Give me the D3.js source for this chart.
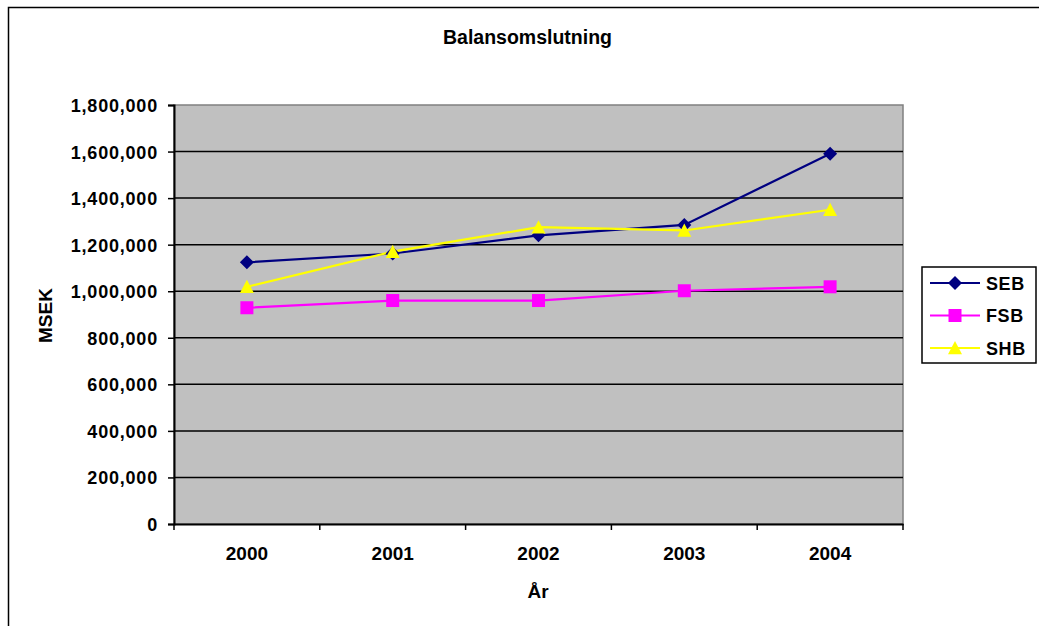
<!DOCTYPE html>
<html>
<head>
<meta charset="utf-8">
<script src="https://cdn.jsdelivr.net/npm/d3@7"></script>
<style>
  html, body { margin: 0; padding: 0; background: #fff; }
  svg { display: block; }
  text { font-family: "Liberation Sans", Arial, sans-serif; font-weight: bold; fill: #000; }
</style>
</head>
<body>
<svg id="chart" width="1039" height="626"></svg>
<script>
// Balansomslutning per bank, MSEK
const years = ["2000", "2001", "2002", "2003", "2004"];
const seb = [1124000, 1162000, 1240000, 1285000, 1591000];
const fsb = [929000, 960000, 960000, 1002000, 1019000];
const shb = [1019000, 1170000, 1275000, 1261000, 1350000];
const yTicks = [0, 200000, 400000, 600000, 800000, 1000000, 1200000, 1400000, 1600000, 1800000];
const seriesNames = ["SEB", "FSB", "SHB"];

// Marker shapes: rotated square, square, flat triangle
const diamond = {
  draw(ctx, size) {
    const r = Math.sqrt(size) / 2;
    ctx.moveTo(0, -r); ctx.lineTo(r, 0); ctx.lineTo(0, r); ctx.lineTo(-r, 0); ctx.closePath();
  }
};
const square = {
  draw(ctx, size) {
    const r = Math.sqrt(size) / 2;
    ctx.rect(-r, -r, 2 * r, 2 * r);
  }
};
const triangle = {
  draw(ctx, size) {
    const w = Math.sqrt(size) / 2;
    ctx.moveTo(0, -w); ctx.lineTo(w, w * 0.9); ctx.lineTo(-w, w * 0.9); ctx.closePath();
  }
};

const series = [
  { name: seriesNames[0], values: seb, color: "#000080", symbol: diamond, size: 196 },
  { name: seriesNames[1], values: fsb, color: "#FF00FF", symbol: square, size: 169 },
  { name: seriesNames[2], values: shb, color: "#FFFF00", symbol: triangle, size: 196 }
];

const svg = d3.select("#chart");
const plot = { left: 174, right: 903, top: 105, bottom: 524 };

// Outer chart frame
svg.append("rect")
  .attr("x", 8.5).attr("y", 7.5)
  .attr("width", 1040).attr("height", 630)
  .attr("fill", "#fff").attr("stroke", "#000").attr("stroke-width", 1.5);

const x = d3.scaleBand().domain(years).range([plot.left, plot.right]);
const y = d3.scaleLinear().domain([0, 1800000]).range([plot.bottom, plot.top]);

// Plot area
svg.append("rect")
  .attr("x", plot.left).attr("y", plot.top)
  .attr("width", plot.right - plot.left).attr("height", plot.bottom - plot.top)
  .attr("fill", "#C0C0C0").attr("stroke", "#808080").attr("stroke-width", 1.5);

// Horizontal gridlines
svg.append("g").selectAll("line")
  .data(yTicks.filter(v => v > 0 && v < 1800000))
  .join("line")
  .attr("x1", plot.left).attr("x2", plot.right)
  .attr("y1", d => y(d)).attr("y2", d => y(d))
  .attr("stroke", "#000").attr("stroke-width", 1.5);

// Y axis
const yAxis = svg.append("g")
  .attr("transform", `translate(${plot.left},0)`)
  .call(d3.axisLeft(y).tickValues(yTicks).tickSize(6).tickPadding(10)
    .tickFormat(d3.format(",")));
yAxis.select(".domain").attr("stroke", "#000").attr("stroke-width", 2);
yAxis.selectAll(".tick line").attr("stroke", "#000").attr("stroke-width", 1.5);
yAxis.selectAll(".tick text")
  .style("font-size", "18px").style("letter-spacing", "0.8px")
  .attr("font-family", null).attr("dy", "0.36em");

// X axis with ticks between categories
const xAxis = svg.append("g")
  .attr("transform", `translate(0,${plot.bottom})`)
  .call(d3.axisBottom(x).tickSize(0).tickPadding(23));
xAxis.select(".domain").attr("stroke", "#000").attr("stroke-width", 2);
xAxis.selectAll(".tick text").style("font-size", "19px").attr("font-family", null);
xAxis.append("g").selectAll("line")
  .data(years.map(yr => x(yr)).concat([plot.right]))
  .join("line")
  .attr("x1", d => d).attr("x2", d => d)
  .attr("y1", 0).attr("y2", 6)
  .attr("stroke", "#000").attr("stroke-width", 1.5);

// Series lines and markers
const line = d3.line()
  .x((d, i) => x(years[i]) + x.bandwidth() / 2)
  .y(d => y(d));

series.forEach(s => {
  svg.append("path")
    .datum(s.values)
    .attr("d", line)
    .attr("fill", "none")
    .attr("stroke", s.color)
    .attr("stroke-width", 2.2);
});
series.forEach(s => {
  svg.append("g").selectAll("path")
    .data(s.values)
    .join("path")
    .attr("transform", (d, i) => `translate(${x(years[i]) + x.bandwidth() / 2},${y(d)})`)
    .attr("d", d3.symbol().type(s.symbol).size(s.size))
    .attr("fill", s.color);
});

// Titles
svg.append("text")
  .attr("x", 527.5).attr("y", 43.5)
  .attr("text-anchor", "middle")
  .style("font-size", "19.5px")
  .text("Balansomslutning");

svg.append("text")
  .attr("x", 538).attr("y", 597.5)
  .attr("text-anchor", "middle")
  .style("font-size", "19px")
  .text("År");

svg.append("text")
  .attr("transform", `translate(52,${(plot.top + plot.bottom) / 2 + 1}) rotate(-90)`)
  .attr("text-anchor", "middle")
  .style("font-size", "19px")
  .text("MSEK");

// Legend
const legend = svg.append("g");
legend.append("rect")
  .attr("x", 922).attr("y", 267).attr("width", 114).attr("height", 96)
  .attr("fill", "#fff").attr("stroke", "#000").attr("stroke-width", 1.5);
const entries = legend.selectAll("g.entry")
  .data(series)
  .join("g")
  .attr("class", "entry")
  .attr("transform", (d, i) => `translate(0,${283 + i * 32.5})`);
entries.append("line")
  .attr("x1", 930).attr("x2", 980).attr("y1", 0).attr("y2", 0)
  .attr("stroke", d => d.color).attr("stroke-width", 2.2);
entries.append("path")
  .attr("transform", "translate(955,0)")
  .attr("d", d => d3.symbol().type(d.symbol).size(d.size)())
  .attr("fill", d => d.color);
entries.append("text")
  .attr("x", 986).attr("y", 6.5)
  .style("font-size", "18px").style("letter-spacing", "0.6px")
  .text(d => d.name);
</script>
</body>
</html>
